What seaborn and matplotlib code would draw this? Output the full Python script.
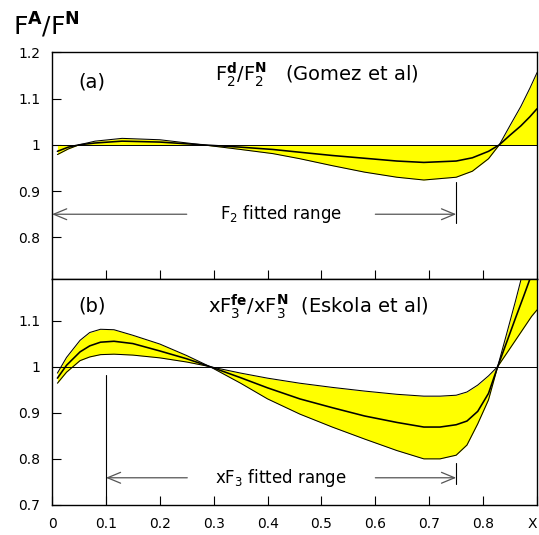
import matplotlib
matplotlib.use("Agg")
import matplotlib.pyplot as plt
import numpy as np
import pandas as pd
import seaborn as sns

# ---------------- data ----------------
# Panel (a): F2^d / F2^N (Gomez et al)
xa = [0.01, 0.03, 0.05, 0.08, 0.13, 0.2, 0.28, 0.35, 0.41, 0.46, 0.52, 0.58,
      0.64, 0.69, 0.75, 0.78, 0.81, 0.83, 0.85, 0.87, 0.887, 0.9]
outer_a = [0.979, 0.991, 1.000, 1.008, 1.014, 1.011, 1.000, 0.990, 0.981, 0.970,
           0.955, 0.941, 0.930, 0.924, 0.930, 0.943, 0.970, 1.000, 1.042, 1.083,
           1.123, 1.156]
central_a = [0.986, 0.995, 1.000, 1.004, 1.008, 1.006, 1.000, 0.995, 0.990, 0.984,
             0.977, 0.971, 0.965, 0.962, 0.965, 0.972, 0.986, 1.000, 1.021, 1.041,
             1.061, 1.078]

# Panel (b): xF3^Fe / xF3^N (Eskola et al)
xb = [0.01, 0.027, 0.052, 0.07, 0.09, 0.115, 0.15, 0.2, 0.25, 0.293, 0.35, 0.4,
      0.46, 0.52, 0.58, 0.64, 0.69, 0.72, 0.75, 0.77, 0.79, 0.81, 0.827, 0.845,
      0.86, 0.875, 0.89, 0.9]
upper_b = [0.986, 1.020, 1.057, 1.074, 1.081, 1.080, 1.068, 1.049, 1.024, 1.000,
           0.986, 0.975, 0.964, 0.955, 0.947, 0.940, 0.936, 0.936, 0.938, 0.945,
           0.960, 0.980, 1.000, 1.077, 1.142, 1.210, 1.280, 1.330]
central_b = [0.975, 1.003, 1.032, 1.045, 1.053, 1.055, 1.050, 1.034, 1.017, 1.000,
             0.976, 0.954, 0.930, 0.911, 0.893, 0.879, 0.869, 0.869, 0.874, 0.882,
             0.903, 0.942, 1.000, 1.057, 1.105, 1.152, 1.200, 1.230]
lower_b = [0.964, 0.988, 1.013, 1.021, 1.026, 1.027, 1.025, 1.019, 1.010, 1.000,
           0.964, 0.930, 0.897, 0.869, 0.843, 0.818, 0.800, 0.800, 0.808, 0.830,
           0.876, 0.928, 1.000, 1.031, 1.057, 1.083, 1.109, 1.123]

x_ticks = [0.0, 0.1, 0.2, 0.3, 0.4, 0.5, 0.6, 0.7, 0.8, 0.9]
x_ticklabels = ["0", "0.1", "0.2", "0.3", "0.4", "0.5", "0.6", "0.7", "0.8", "X"]
ya_ticks = [0.8, 0.9, 1.0, 1.1, 1.2]
ya_ticklabels = ["0.8", "0.9", "1", "1.1", "1.2"]
yb_ticks = [0.7, 0.8, 0.9, 1.0, 1.1]
yb_ticklabels = ["0.7", "0.8", "0.9", "1", "1.1"]

fit_a = [0.0, 0.75]
fit_b = [0.1, 0.75]

# ---------------- style ----------------
sns.set_style("white")
plt.rcParams["font.family"] = ["DejaVu Sans"]
plt.rcParams["axes.edgecolor"] = "black"
plt.rcParams["axes.linewidth"] = 1.0
plt.rcParams["mathtext.fontset"] = "dejavusans"
plt.rcParams["text.color"] = "black"
plt.rcParams["xtick.color"] = "black"
plt.rcParams["ytick.color"] = "black"
plt.rcParams["xtick.labelcolor"] = "black"
plt.rcParams["ytick.labelcolor"] = "black"

YELLOW = "#FFFF00"

fig = plt.figure(figsize=(5.39, 5.35), dpi=100)
axa = fig.add_axes([0.0965, 0.4785, 0.8998, 0.4237])
axb = fig.add_axes([0.0965, 0.0561, 0.8998, 0.4224])

dfa = pd.DataFrame({"x": xa, "outer": outer_a, "central": central_a})
dfb = pd.DataFrame({"x": xb, "upper": upper_b, "central": central_b, "lower": lower_b})

# panel a
axa.fill_between(dfa["x"], 1.0, dfa["outer"], color=YELLOW, lw=0, zorder=1)
axa.axhline(1.0, color="black", lw=0.7, zorder=2)
sns.lineplot(data=dfa, x="x", y="outer", ax=axa, color="black", lw=0.75,
             sort=False, estimator=None, zorder=3)
sns.lineplot(data=dfa, x="x", y="central", ax=axa, color="black", lw=1.15,
             sort=False, estimator=None, zorder=3)

# panel b
axb.fill_between(dfb["x"], dfb["lower"], dfb["upper"], color=YELLOW, lw=0, zorder=1)
axb.axhline(1.0, color="black", lw=0.7, zorder=2)
for col, lw in (("upper", 0.75), ("lower", 0.75), ("central", 1.15)):
    sns.lineplot(data=dfb, x="x", y=col, ax=axb, color="black", lw=lw,
                 sort=False, estimator=None, zorder=3)

for ax in (axa, axb):
    ax.set_xlim(0, 0.9)
    ax.set_xlabel("")
    ax.set_ylabel("")
    ax.set_xticks(x_ticks)
    ax.tick_params(axis="both", direction="in", length=6.5, width=0.8,
                   labelsize=10, pad=8.5, colors="black",
                   top=False, right=False, bottom=True, left=True)
    for s in ax.spines.values():
        s.set_color("black")
        s.set_linewidth(1.0)
        s.set_visible(True)

axa.set_ylim(0.71, 1.2)
axb.set_ylim(0.70, 1.19)
axa.set_yticks(ya_ticks)
axa.set_yticklabels(ya_ticklabels)
axb.set_yticks(yb_ticks)
axb.set_yticklabels(yb_ticklabels)
axa.set_xticklabels([])
axb.set_xticklabels(x_ticklabels)
axb.get_xticklabels()[-1].set_horizontalalignment("right")

arrow_kw = dict(arrowstyle="->,head_length=0.94,head_width=0.39",
                color="#555555", lw=0.9, shrinkA=0, shrinkB=0,
                mutation_scale=10)

# fitted range annotations, panel a
ya_arr = 0.85
axa.annotate("", xy=(fit_a[0], ya_arr), xytext=(0.25, ya_arr), arrowprops=arrow_kw)
axa.annotate("", xy=(fit_a[1], ya_arr), xytext=(0.60, ya_arr), arrowprops=arrow_kw)
axa.plot([fit_a[1], fit_a[1]], [0.83, 0.92], color="black", lw=0.8)
axa.text(0.425, ya_arr, r"F$_\mathregular{2}$ fitted range", ha="center",
         va="center", fontsize=12)

# fitted range annotations, panel b
yb_arr = 0.759
axb.annotate("", xy=(fit_b[0], yb_arr), xytext=(0.251, yb_arr), arrowprops=arrow_kw)
axb.annotate("", xy=(fit_b[1], yb_arr), xytext=(0.60, yb_arr), arrowprops=arrow_kw)
axb.plot([fit_b[0], fit_b[0]], [0.70, 0.981], color="black", lw=0.8)
axb.plot([fit_b[1], fit_b[1]], [0.745, 0.79], color="black", lw=0.8)
axb.text(0.425, yb_arr, r"xF$_\mathregular{3}$ fitted range", ha="center",
         va="center", fontsize=12)

# panel labels and titles
axa.text(0.074, 1.136, "(a)", ha="center", va="center", fontsize=14)
axa.text(0.491, 1.151,
         r"F$_\mathregular{2}^\mathbf{d}$/F$_\mathregular{2}^\mathbf{N}$   (Gomez et al)",
         ha="center", va="center", fontsize=14)
axb.text(0.075, 1.132, "(b)", ha="center", va="center", fontsize=14)
axb.text(0.494, 1.129,
         r"xF$_\mathregular{3}^\mathbf{fe}$/xF$_\mathregular{3}^\mathbf{N}$  (Eskola et al)",
         ha="center", va="center", fontsize=14)

fig.text(0.024, 0.953, r"F$^\mathbf{A}$/F$^\mathbf{N}$", ha="left", va="center",
         fontsize=18)

fig.savefig("out.png", dpi=100)
